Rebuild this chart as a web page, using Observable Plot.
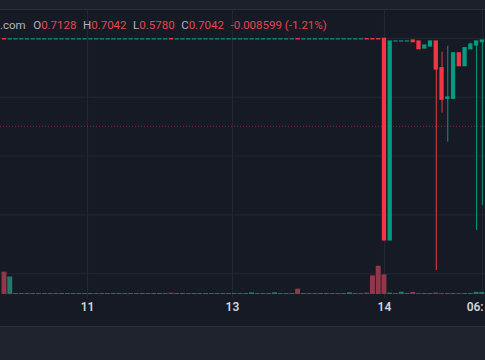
<!DOCTYPE html>
<html><head><meta charset="utf-8">
<script src="https://cdn.jsdelivr.net/npm/d3@7"></script>
<script src="https://cdn.jsdelivr.net/npm/@observablehq/plot@0.6"></script>
<style>
html,body{margin:0;padding:0;background:#161a25;}
#wrap{position:relative;width:485px;height:360px;overflow:hidden;background:#161a25;font-family:Roboto,"Noto Sans",sans-serif;}
#topbar{position:absolute;left:0;top:0;width:485px;height:9px;background:#1c202b;border-bottom:1px solid #2a2e39;}
#bottombar{position:absolute;left:0;top:326px;width:485px;height:34px;background:#1f232e;border-top:1px solid #2a2e39;}
#legend{position:absolute;left:0;top:19px;font-size:11.5px;line-height:12px;white-space:nowrap;color:#b2b5be;z-index:5;}
#legend .v{color:#e8434f;margin-right:6.5px;}
#wrap svg{position:absolute;left:0;top:10px;}
</style>
</head><body>
<div id="wrap">
  <div id="topbar"></div>
  <div id="bottombar"></div>
  <div id="legend"></div>
</div>
<script>
// ---- data ----
const legendKeys = [".com", "O", "H", "L", "C", ""];
const legendVals = ["", "0.7128", "0.7042", "0.5780", "0.7042", "-0.008599 (-1.21%)"];

const gridX = [14.42, 39.6, 66.0, 83.0];
const labelX = [14.42, 39.6, 66.0, 81.75];
const tickLabels = ["11", "13", "14", "06:"];

const gridPrices = [0.50, 0.55, 0.60, 0.65, 0.70];
const priceLine = 0.6253;

const opens = [
  0.6993,0.6991,0.6991,0.6991,0.6991,0.6991,0.6991,0.6991,0.6991,0.6991,
  0.6991,0.6991,0.6991,0.6991,0.6991,0.6991,0.6991,0.6991,0.6991,0.6991,
  0.6991,0.6991,0.6991,0.6991,0.6991,0.6991,0.6991,0.6991,0.6991,0.6993,
  0.6991,0.6991,0.6991,0.6991,0.6991,0.6991,0.6991,0.6991,0.6991,0.6991,
  0.6991,0.6991,0.6991,0.6991,0.6991,0.6991,0.6991,0.6991,0.6991,0.6991,
  0.6991,0.6993,0.6991,0.6991,0.6991,0.6991,0.6991,0.6991,0.6991,0.6991,
  0.6991,0.6991,0.6991,0.6993,0.6993,0.6993,0.6996,0.5283,0.6973,0.6973,
  0.6973,0.6981,0.6973,0.6913,0.6930,0.6973,0.6746,0.6486,0.6486,0.6873,
  0.6763,0.6907,0.6939,0.6967
];
const highs = [
  0.6993,0.6991,0.6991,0.6991,0.6991,0.6991,0.6991,0.6991,0.6991,0.6991,
  0.6991,0.6991,0.6991,0.6991,0.6991,0.6991,0.6991,0.6991,0.6991,0.6991,
  0.6991,0.6991,0.6991,0.6991,0.6991,0.6991,0.6991,0.6991,0.6991,0.6993,
  0.6991,0.6991,0.6991,0.6991,0.6991,0.6991,0.6991,0.6991,0.6991,0.6991,
  0.6991,0.6991,0.6991,0.6991,0.6991,0.6991,0.6991,0.6991,0.6991,0.6991,
  0.6991,0.6993,0.6991,0.6991,0.6991,0.6991,0.6991,0.6991,0.6991,0.6991,
  0.6991,0.6991,0.6991,0.6993,0.6993,0.6993,0.6996,0.6973,0.6973,0.6973,
  0.6973,0.6981,0.6973,0.6939,0.6973,0.6973,0.6882,0.6933,0.6873,0.6873,
  0.6916,0.6958,0.6973,0.6981
];
const lows = [
  0.6991,0.6991,0.6991,0.6991,0.6991,0.6991,0.6991,0.6991,0.6991,0.6991,
  0.6991,0.6991,0.6991,0.6991,0.6991,0.6991,0.6991,0.6991,0.6991,0.6991,
  0.6991,0.6991,0.6991,0.6991,0.6991,0.6991,0.6991,0.6991,0.6991,0.6991,
  0.6991,0.6991,0.6991,0.6991,0.6991,0.6991,0.6991,0.6991,0.6991,0.6991,
  0.6991,0.6991,0.6991,0.6991,0.6991,0.6991,0.6991,0.6991,0.6991,0.6991,
  0.6991,0.6991,0.6991,0.6991,0.6991,0.6991,0.6991,0.6991,0.6991,0.6991,
  0.6991,0.6991,0.6991,0.6991,0.6991,0.6991,0.5283,0.5283,0.6973,0.6973,
  0.6973,0.6967,0.6907,0.6913,0.6930,0.5028,0.6364,0.6118,0.6486,0.6763,
  0.6763,0.6907,0.5368,0.5580
];
const closes = [
  0.6991,0.6991,0.6991,0.6991,0.6991,0.6991,0.6991,0.6991,0.6991,0.6991,
  0.6991,0.6991,0.6991,0.6991,0.6991,0.6991,0.6991,0.6991,0.6991,0.6991,
  0.6991,0.6991,0.6991,0.6991,0.6991,0.6991,0.6991,0.6991,0.6991,0.6991,
  0.6991,0.6991,0.6991,0.6991,0.6991,0.6991,0.6991,0.6991,0.6991,0.6991,
  0.6991,0.6991,0.6991,0.6991,0.6991,0.6991,0.6991,0.6991,0.6991,0.6991,
  0.6991,0.6991,0.6991,0.6991,0.6991,0.6991,0.6991,0.6991,0.6991,0.6991,
  0.6991,0.6991,0.6991,0.6991,0.6991,0.6991,0.5283,0.6973,0.6973,0.6973,
  0.6973,0.6967,0.6907,0.6939,0.6973,0.6735,0.6478,0.6497,0.6873,0.6763,
  0.6916,0.6947,0.6973,0.6981
];
const volumes = [
  32,25,1.3,1.3,1.3,1.3,1.3,1.3,1.3,1.3,
  1.3,1.3,1.3,1.3,1.3,1.3,1.3,1.3,1.3,1.3,
  1.3,1.3,1.3,1.3,1.3,1.3,1.3,1.3,1.3,1.8,
  1.3,1.3,1.3,1.3,1.3,1.3,1.3,1.3,1.3,1.3,
  1.3,1.3,1.3,2.4,1.3,1.3,1.3,2.4,1.3,1.3,
  1.3,7.6,1.3,1.3,1.3,1.3,1.3,1.3,1.3,1.3,
  2.4,1.3,1.3,2.0,26.6,40.4,28,2.0,1.3,3.3,
  1.3,3.0,1.3,1.3,1.3,2.0,1.3,1.3,1.3,1.3,
  1.3,1.3,3.0,3.0
];

// ---- build ----
const GREEN = "#089981", RED = "#f23645";
const VGREEN = "#1d7b69", VRED = "#92364a";
const data = opens.map((o, i) => ({i, o, h: highs[i], l: lows[i], c: closes[i], v: volumes[i]}));
const up = d => d.c >= d.o;

const legend = document.getElementById("legend");
legendKeys.forEach((k, j) => {
  const ks = document.createElement("span"); ks.textContent = k;
  if (j === 0) ks.style.marginRight = "7.5px";
  legend.append(ks);
  if (legendVals[j]) { const vs = document.createElement("span"); vs.className = "v"; vs.textContent = legendVals[j]; legend.append(vs); }
});

const xDomain = [-0.695, 83.55];
const common = {width: 485, height: 316, marginLeft: 0, marginRight: 0,
  style: {background: "transparent", fontFamily: "Roboto, 'Noto Sans', sans-serif"}};

const gridPlot = Plot.plot({
  ...common, marginTop: 0, marginBottom: 28,
  x: {type: "linear", domain: xDomain, axis: null},
  y: {domain: [0.47901, 0.72361], axis: null},
  marks: [
    Plot.ruleY(gridPrices, {stroke: "#242834", strokeWidth: 1}),
    Plot.ruleX(gridX, {stroke: "#242834", strokeWidth: 1}),
    Plot.text(labelX, {x: d => d, text: (d, i) => tickLabels[i], frameAnchor: "bottom", dy: 12,
      fill: "#d1d4dc", fontSize: 12, fontWeight: 600})
  ]
});

const volPlot = Plot.plot({
  ...common, marginTop: 214, marginBottom: 32,
  x: {type: "linear", domain: xDomain, axis: null},
  y: {domain: [0, 100], axis: null},
  color: {type: "identity"},
  marks: [
    Plot.rectY(data, {x1: d => d.i - 0.43, x2: d => d.i + 0.43, y: "v", fill: d => up(d) ? VGREEN : VRED})
  ]
});

const pricePlot = Plot.plot({
  ...common, marginTop: 0, marginBottom: 28,
  x: {type: "linear", domain: xDomain, axis: null},
  y: {domain: [0.47901, 0.72361], axis: null},
  color: {type: "identity"},
  marks: [
    Plot.ruleY([priceLine], {stroke: RED, strokeOpacity: 0.55, strokeDasharray: "1,2"}),
    Plot.ruleX(data, {x: "i", y1: "l", y2: "h", stroke: d => up(d) ? GREEN : RED, strokeWidth: 1}),
    Plot.rect(data, {x1: d => d.i - 0.373, x2: d => d.i + 0.373, y1: "o", y2: "c",
      fill: d => up(d) ? GREEN : RED, insetTop: -0.6, insetBottom: -0.6})
  ]
});

const wrap = document.getElementById("wrap");
wrap.insertBefore(gridPlot, legend);
wrap.insertBefore(volPlot, legend);
wrap.insertBefore(pricePlot, legend);
</script>
</body></html>
